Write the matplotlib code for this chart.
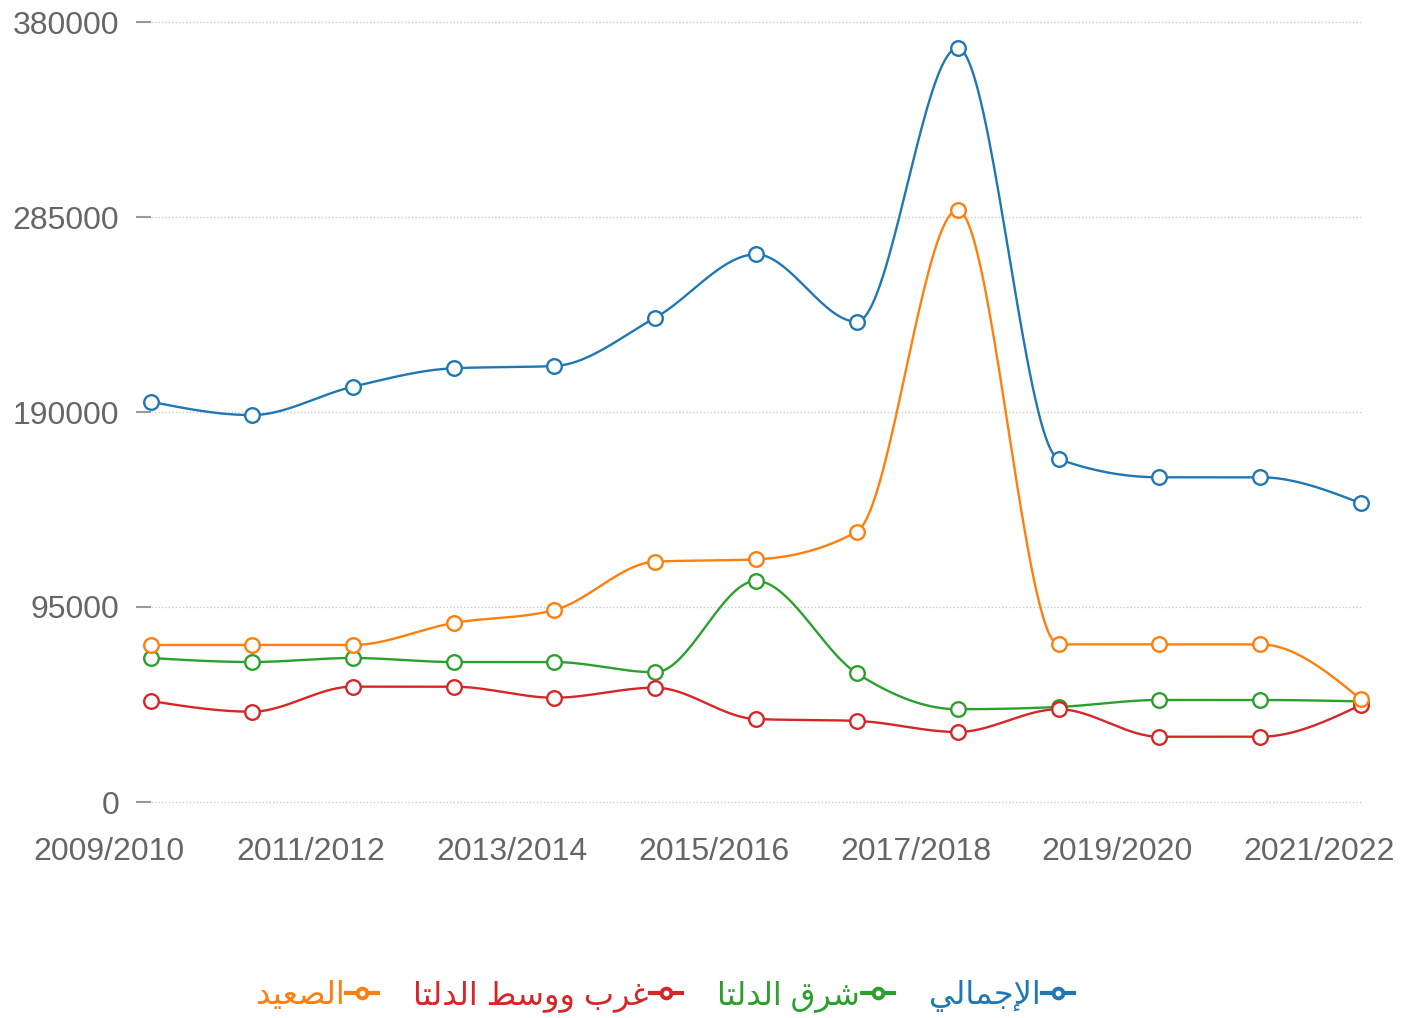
import numpy as np
import matplotlib
matplotlib.use("Agg")
import matplotlib.pyplot as plt
import matplotlib.transforms as mtransforms
from matplotlib.lines import Line2D

# data
years = ["2009/2010", "2010/2011", "2011/2012", "2012/2013", "2013/2014",
         "2014/2015", "2015/2016", "2016/2017", "2017/2018", "2018/2019",
         "2019/2020", "2020/2021", "2021/2022"]

total = [195000, 188500, 202300, 211300, 212400, 235900, 266800,
         234000, 367300, 167100, 158200, 158200, 145500]
east_delta = [70150, 68200, 70150, 68200, 68200, 63200, 107700,
              62700, 45200, 46300, 49700, 49700, 49000]
west_delta = [49200, 44000, 56200, 56200, 50800, 55700, 40400,
              39500, 34100, 45200, 31800, 31800, 47300]
upper_egypt = [76500, 76500, 76500, 87200, 93500, 117100, 118200,
               131700, 288400, 76800, 76800, 76800, 50000]

series_names = ["الإجمالي", "شرق الدلتا", "غرب ووسط الدلتا", "الصعيد"]
series_values = [total, east_delta, west_delta, upper_egypt]
series_colors = ["#1f77b4", "#2ca02c", "#d62728", "#ff7f0e"]

y_ticks = [0, 95000, 190000, 285000, 380000]

# arabic letters -> (isolated, final, initial, medial) presentation forms
FORMS = {
    "ا": (0xFE8D, 0xFE8E, None, None),
    "إ": (0xFE87, 0xFE88, None, None),
    "ب": (0xFE8F, 0xFE90, 0xFE91, 0xFE92),
    "ت": (0xFE95, 0xFE96, 0xFE97, 0xFE98),
    "ج": (0xFE9D, 0xFE9E, 0xFE9F, 0xFEA0),
    "د": (0xFEA9, 0xFEAA, None, None),
    "ر": (0xFEAD, 0xFEAE, None, None),
    "س": (0xFEB1, 0xFEB2, 0xFEB3, 0xFEB4),
    "ش": (0xFEB5, 0xFEB6, 0xFEB7, 0xFEB8),
    "ص": (0xFEB9, 0xFEBA, 0xFEBB, 0xFEBC),
    "ط": (0xFEC1, 0xFEC2, 0xFEC3, 0xFEC4),
    "ع": (0xFEC9, 0xFECA, 0xFECB, 0xFECC),
    "غ": (0xFECD, 0xFECE, 0xFECF, 0xFED0),
    "ق": (0xFED5, 0xFED6, 0xFED7, 0xFED8),
    "ل": (0xFEDD, 0xFEDE, 0xFEDF, 0xFEE0),
    "م": (0xFEE1, 0xFEE2, 0xFEE3, 0xFEE4),
    "و": (0xFEED, 0xFEEE, None, None),
    "ي": (0xFEF1, 0xFEF2, 0xFEF3, 0xFEF4),
}
LAM_ALEF = {"ا": (0xFEFB, 0xFEFC, None, None), "إ": (0xFEF9, 0xFEFA, None, None)}


def shape_arabic(text):
    """Join arabic letters into presentation forms and reverse for display."""
    units = []
    i = 0
    while i < len(text):
        c = text[i]
        if c == "ل" and i + 1 < len(text) and text[i + 1] in LAM_ALEF:
            units.append(LAM_ALEF[text[i + 1]])
            i += 2
            continue
        units.append(FORMS.get(c, c))
        i += 1
    out = []
    for k, u in enumerate(units):
        if isinstance(u, str):
            out.append(u)
            continue
        prev = units[k - 1] if k > 0 else None
        nxt = units[k + 1] if k + 1 < len(units) else None
        joins_prev = isinstance(prev, tuple) and prev[2] is not None
        joins_next = u[2] is not None and isinstance(nxt, tuple)
        if joins_prev and joins_next:
            code = u[3]
        elif joins_prev:
            code = u[1]
        elif joins_next:
            code = u[2]
        else:
            code = u[0]
        out.append(chr(code))
    return "".join(out[::-1])


def monotone_curve(x, y, n=40):
    """Monotone cubic (d3 curveMonotoneX style) through the points."""
    x = np.asarray(x, float)
    y = np.asarray(y, float)
    h = np.diff(x)
    s = np.diff(y) / h
    t = np.zeros_like(y)
    for i in range(1, len(y) - 1):
        p = (s[i - 1] * h[i] + s[i] * h[i - 1]) / (h[i - 1] + h[i])
        t[i] = (np.sign(s[i - 1]) + np.sign(s[i])) * min(abs(s[i - 1]), abs(s[i]), 0.5 * abs(p))
    t[0] = (3 * s[0] - t[1]) / 2
    t[-1] = (3 * s[-1] - t[-2]) / 2
    xs, ys = [], []
    u = np.linspace(0, 1, n)
    for i in range(len(h)):
        h00 = 2 * u**3 - 3 * u**2 + 1
        h10 = u**3 - 2 * u**2 + u
        h01 = -2 * u**3 + 3 * u**2
        h11 = u**3 - u**2
        xs.append(x[i] + u * h[i])
        ys.append(h00 * y[i] + h10 * h[i] * t[i] + h01 * y[i + 1] + h11 * h[i] * t[i + 1])
    return np.concatenate(xs), np.concatenate(ys)


plt.rcParams["font.family"] = ["Liberation Sans", "DejaVu Sans"]

fig = plt.figure(figsize=(14.15, 10.18), dpi=100)
ax = fig.add_axes([151 / 1415, 216 / 1018, 1210 / 1415, 780 / 1018])

x = np.arange(len(years))
for name, vals, color in zip(series_names, series_values, series_colors):
    cx, cy = monotone_curve(x, vals)
    ax.plot(cx, cy, color=color, lw=1.7, solid_capstyle="round")
    ax.plot(x, vals, "o", ms=10.5, mfc="white", mec=color, mew=1.7, clip_on=False)

ax.set_xlim(0, len(years) - 1)
ax.set_ylim(0, 380000)

ax.set_yticks(y_ticks)
ax.set_yticklabels([str(v) for v in y_ticks])
ax.set_xticks(x[::2])
ax.set_xticklabels(years[::2])

ax.tick_params(axis="y", length=11, width=1.5, color="#999999", pad=12,
               labelsize=23, labelcolor="#666666")
ax.tick_params(axis="x", length=0, pad=25, labelsize=23, labelcolor="#666666")

# x labels sit a bit to the left of their points
shift = mtransforms.ScaledTranslation(-42 / 100, 0, fig.dpi_scale_trans)
for lab in ax.get_xticklabels():
    lab.set_transform(lab.get_transform() + shift)

ax.grid(axis="y", color="#cccccc", linestyle=(0, (1, 1.5)), lw=1)
for gl in ax.get_ygridlines():
    gl.set_clip_on(False)
ax.set_axisbelow(True)
for sp in ax.spines.values():
    sp.set_visible(False)

# legend, right to left
handles = []
for name, color in zip(series_names[::-1], series_colors[::-1]):
    handles.append(Line2D([], [], color=color, lw=3, marker="o", ms=7,
                          mfc="white", mec=color, mew=2.8,
                          label=shape_arabic(name)))
fig.legend(handles=handles, loc="center", bbox_to_anchor=(665 / 1415, 22 / 1018),
           ncol=4, frameon=False, fontsize=23, markerfirst=False,
           handlelength=1.0, handletextpad=0.05, columnspacing=1.1,
           labelcolor="linecolor")

fig.savefig("out.png", dpi=100)
